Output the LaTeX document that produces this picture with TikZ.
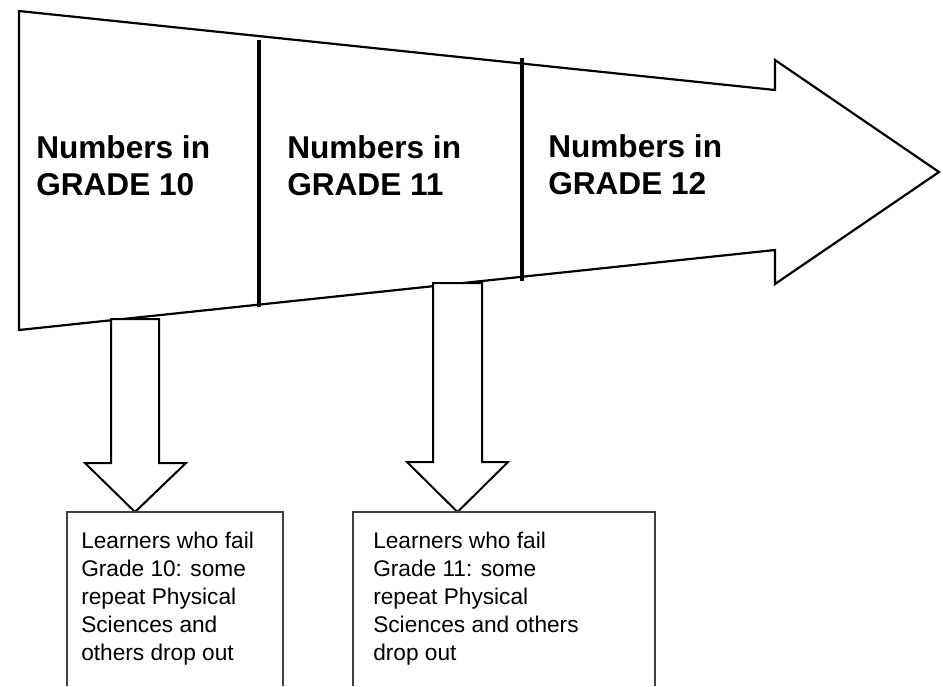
\documentclass[tikz,border=0pt]{standalone}
\usepackage{fontspec}
\setmainfont{Liberation Sans}
\begin{document}
\begin{tikzpicture}[x=0.75pt,y=-0.75pt,
  outline/.style={draw=black,line width=1.65pt,line join=miter},
  divider/.style={draw=black,line width=2.4pt},
  droparrow/.style={draw=black,line width=1.5pt,fill=white,line join=miter},
  notebox/.style={draw=black!75,line width=0.9pt},
  heading/.style={anchor=base west,inner sep=0pt,font=\bfseries\fontsize{23.7}{27.8}\selectfont},
  note/.style={anchor=base west,inner sep=0pt,font=\fontsize{17}{21}\selectfont}]
\useasboundingbox (0,0) rectangle (943,686);

% tapering flow arrow through the three grades
\path[outline] (19,11) -- (775,90) -- (775,60) -- (939,172) -- (775,284)
  -- (775,250) -- (19,330) -- cycle;
\draw[divider] (259,40) -- (259,307);
\draw[divider] (522,58) -- (522,281);

% grade labels
\node[heading] (g10) at (36,158) {\begin{tabular}[t]{@{}l@{}}Numbers in\\GRADE 10\end{tabular}};
\node[heading] (g11) at (287,158) {\begin{tabular}[t]{@{}l@{}}Numbers in\\GRADE 11\end{tabular}};
\node[heading] (g12) at (548,157) {\begin{tabular}[t]{@{}l@{}}Numbers in\\GRADE 12\end{tabular}};

% drop-out arrows
\path[droparrow] (111,319) -- (159,319) -- (159,463) -- (186,463) -- (135,512)
  -- (85,463) -- (111,463) -- cycle;
\path[droparrow] (433,283) -- (482,283) -- (482,462) -- (508,462) -- (457.5,512)
  -- (407,462) -- (433,462) -- cycle;

% note boxes (running off the bottom edge)
\draw[notebox] (67,686) -- (67,512) -- (283,512) -- (283,686);
\draw[notebox] (353,686) -- (353,512) -- (655,512) -- (655,686);

\node[note] (fail10) at (81,548) {\begin{tabular}[t]{@{}l@{}}Learners who fail\\Grade 10: some\\repeat Physical\\Sciences and\\others drop out\end{tabular}};
\node[note] (fail11) at (373,548) {\begin{tabular}[t]{@{}l@{}}Learners who fail\\Grade 11: some\\repeat Physical\\Sciences and others\\drop out\end{tabular}};
\end{tikzpicture}
\end{document}
